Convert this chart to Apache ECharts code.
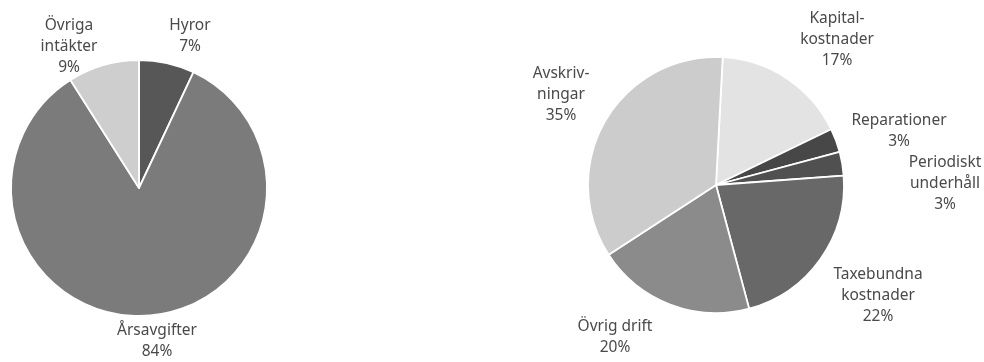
<!DOCTYPE html>
<html>
<head>
<meta charset="utf-8">
<script src="https://cdn.jsdelivr.net/npm/echarts@6/dist/echarts.min.js"></script>
<style>
  html, body { margin: 0; padding: 0; background: #fff; }
  #chart { width: 984px; height: 362px; }
</style>
</head>
<body>
<div id="chart"></div>
<script>
// intäkter (vänster)
const incomeNames = ['Hyror', 'Årsavgifter', 'Övriga\nintäkter']
const incomeValues = [7, 84, 9]
const incomeColors = ['#575757', '#7b7b7b', '#cecece']

// kostnader (höger)
const costNames = ['Kapital-\nkostnader', 'Reparationer', 'Periodiskt\nunderhåll', 'Taxebundna\nkostnader', 'Övrig drift', 'Avskriv-\nningar']
const costValues = [17, 3, 3, 22, 20, 35]
const costColors = ['#e3e3e3', '#474747', '#505050', '#686868', '#8b8b8b', '#cccccc']

// var etiketterna står (mitt på textblocket)
const incomeLabelPos = [[190, 36], [157, 341], [69, 47]]
const costLabelPos = [[837, 40], [899, 131], [945, 184], [878, 296], [615, 337], [561, 95]]

const chart = echarts.init(document.getElementById('chart'))

function pieSeries(names, values, colors, pos, center, startAngle) {
  return {
    type: 'pie',
    center: center,
    radius: 128,
    startAngle: startAngle,
    clockwise: true,
    silent: true,
    data: names.map((n, i) => ({ name: n, value: values[i], itemStyle: { color: colors[i] } })),
    itemStyle: { borderColor: '#ffffff', borderWidth: 1.8 },
    label: {
      show: true,
      position: 'outside',
      formatter: '{b}\n{c}%',
      fontFamily: 'Noto Sans',
      fontSize: 15.5,
      lineHeight: 21,
      color: '#4a4a4a',
      align: 'center',
      overflow: 'none',
    },
    labelLine: { show: false },
    labelLayout: (params) => ({
      x: pos[params.dataIndex][0],
      y: pos[params.dataIndex][1],
      align: 'center',
      verticalAlign: 'middle',
      width: 200,
    }),
  }
}

chart.setOption({
  animation: false,
  series: [
    pieSeries(incomeNames, incomeValues, incomeColors, incomeLabelPos, [139, 188], 90),
    pieSeries(costNames, costValues, costColors, costLabelPos, [716, 185], 87),
  ],
})
</script>
</body>
</html>
